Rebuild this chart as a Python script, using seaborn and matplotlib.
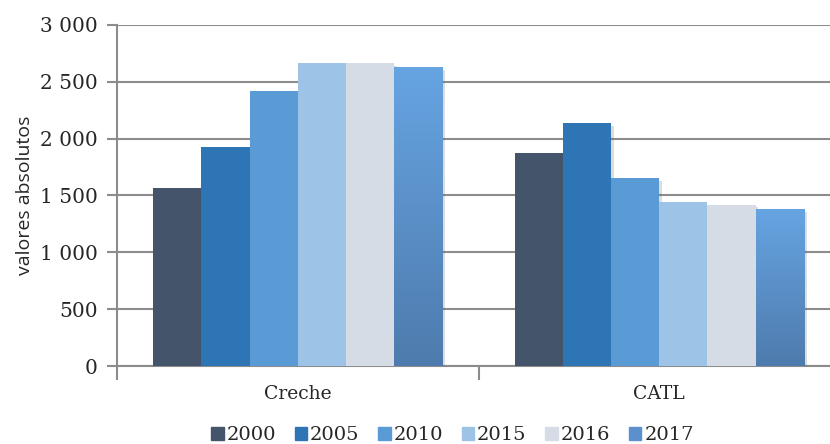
import numpy as np
import pandas as pd
import matplotlib
matplotlib.use('Agg')
import matplotlib.pyplot as plt
import matplotlib.patheffects as pe
from matplotlib.colors import LinearSegmentedColormap
from matplotlib.ticker import FuncFormatter
import seaborn as sns

# data
categories = ['Creche', 'CATL']
years = ['2000', '2005', '2010', '2015', '2016', '2017']
creche = [1570, 1930, 2415, 2668, 2668, 2632]
catl = [1875, 2135, 1655, 1440, 1420, 1378]

colors = ['#44546A', '#2E75B6', '#5B9BD5', '#9DC3E6', '#D6DCE5', '#5A90CC']

df = pd.DataFrame({
    'Resposta': np.repeat(categories, len(years)),
    'Ano': years * len(categories),
    'Valor': creche + catl,
})

sns.set_style('white')
plt.rcParams['font.family'] = ['DejaVu Serif']

fig = plt.figure(figsize=(8.3, 4.44), dpi=100)
ax = fig.add_axes([117 / 830, 78 / 444, 723 / 830, 341 / 444])

sns.barplot(data=df, x='Resposta', y='Valor', hue='Ano', palette=colors,
            width=0.8, saturation=1, legend=False, linewidth=0, ax=ax, zorder=3)

# soft shadow on bars
for cont in ax.containers:
    for p in cont:
        p.set_linewidth(0)
        p.set_path_effects([pe.SimplePatchShadow(offset=(2, -2), alpha=0.2, shadow_rgbFace='#555555'),
                            pe.Normal()])

# gradient on 2017 bars
grad = LinearSegmentedColormap.from_list('g', ['#4E7BAD', '#66A4E2'])
for p in ax.containers[5]:
    x0, y0 = p.get_x(), p.get_y()
    w, h = p.get_width(), p.get_height()
    img = ax.imshow(np.linspace(0, 1, 256).reshape(-1, 1), cmap=grad, origin='lower',
                    extent=[x0, x0 + w, y0, y0 + h], aspect='auto', zorder=3.5)
    img.set_clip_path(p)

ax.set_xlim(-0.5, 1.5)
ax.set_ylim(0, 3000)
ax.set_yticks(np.arange(0, 3001, 500))
ax.yaxis.set_major_formatter(FuncFormatter(lambda v, _: f'{v:,.0f}'.replace(',', ' ')))
ax.grid(axis='y', color='#8C8C8C', linewidth=1.5, zorder=0)
ax.set_axisbelow(True)

for s in ['top', 'right']:
    ax.spines[s].set_visible(False)
for s in ['left', 'bottom']:
    ax.spines[s].set_color('#8C8C8C')
    ax.spines[s].set_linewidth(1.5)

ax.tick_params(axis='y', which='major', length=7, width=1.5, color='#8C8C8C',
               direction='out', labelsize=14.5, pad=7, left=True)
ax.set_xticks([-0.5, 0.5, 1.5], minor=True)
ax.tick_params(axis='x', which='minor', length=10, width=1.5, color='#8C8C8C', direction='out', bottom=True)
ax.tick_params(axis='x', which='major', length=0, labelsize=13.5, pad=14)

ax.set_xlabel('')
ax.set_ylabel('valores absolutos', fontsize=14, family='Open Sans', labelpad=4)

handles = [plt.Rectangle((0, 0), 1, 1, color=c) for c in colors]
fig.legend(handles, years, loc='lower center', bbox_to_anchor=(0.545, -0.04), ncol=6,
           frameon=False, fontsize=14, handlelength=0.65, handleheight=0.65,
           handletextpad=0.15, columnspacing=0.95)

fig.savefig('out.png', dpi=100)
